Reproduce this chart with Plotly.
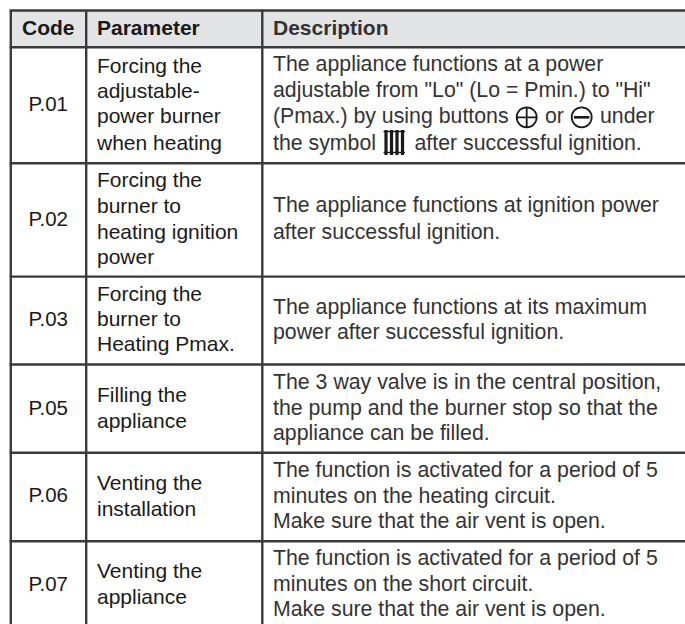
import plotly.graph_objects as go

W, H = 685, 624
FONT = "Liberation Sans"
SIZE_HEAD = 21
SIZE_CODE = 20.5
SIZE_PARAM = 21
SIZE_DESC = 21.3
DARK = "#1a1a1a"
GREY = "#333333"
LINE = "#3a3a3a"
HEAD_FILL = "#e3e4e5"

# table rules (page pixels)
h_rules = [10.5, 47.2, 163.3, 276.6, 364.5, 452.7, 541.3]
v_rules = [10.8, 86.2, 262.3]

# header
header_labels = ["Code", "Parameter", "Description"]
header_x = [22, 97, 273]
header_base = [36.7, 36.7, 36.7]

# Code column
codes = ["P.01", "P.02", "P.03", "P.05", "P.06", "P.07"]
code_base = [113, 227.7, 328, 417, 504, 592.7]
code_x = [48.2] * 6

# Parameter column
param_lines = ["Forcing the", "adjustable-", "power burner", "when heating",
               "Forcing the", "burner to", "heating ignition", "power",
               "Forcing the", "burner to", "Heating Pmax.",
               "Filling the", "appliance",
               "Venting the", "installation",
               "Venting the", "appliance"]
param_base = [75, 99.7, 125.2, 151.5,
              189, 215, 240.5, 265.5,
              303, 328, 353,
              404, 430,
              492, 518,
              580, 606]
param_x = [97] * len(param_lines)

# Description column
desc_lines = ["The appliance functions at a power",
              "adjustable from \"Lo\" (Lo = Pmin.) to \"Hi\"",
              "(Pmax.) by using buttons",
              "the symbol",
              "The appliance functions at ignition power",
              "after successful ignition.",
              "The appliance functions at its maximum",
              "power after successful ignition.",
              "The 3 way valve is in the central position,",
              "the pump and the burner stop so that the",
              "appliance can be filled.",
              "The function is activated for a period of 5",
              "minutes on the heating circuit.",
              "Make sure that the air vent is open.",
              "The function is activated for a period of 5",
              "minutes on the short circuit.",
              "Make sure that the air vent is open."]
desc_base = [73, 99, 125, 151.5,
             214, 240.5,
             315.7, 341,
             390.7, 416.7, 441.7,
             479, 505, 530,
             566.7, 592.7, 618]
desc_x = [273] * len(desc_lines)

# pieces of text set between the symbols of the first description
inline_text = ["or", "under", "after successful ignition."]
inline_x = [545, 600, 414.5]
inline_base = [125, 125, 151.5]

# symbols
plus_x, plus_y = [526.7], [117.3]
minus_x, minus_y = [581.7], [117.3]
rad_bars_x = [386.0, 391.5, 397.0, 402.5]
rad_top, rad_bottom = 131.5, 152.5
rad_left, rad_right = 383.5, 405.0

BASE_SHIFT = 7.0   # baseline to middle of the text box


def text_trace(x, base, labels, color, size, anchor="middle right", bold=False):
    return go.Scatter(
        x=x, y=[b - BASE_SHIFT for b in base], text=labels, mode="text",
        textposition=anchor, cliponaxis=False, hoverinfo="skip", showlegend=False,
        textfont=dict(family=FONT, size=size, color=color,
                      weight="bold" if bold else "normal"))


fig = go.Figure()
shapes = [dict(type="rect", xref="x", yref="y", x0=v_rules[0], x1=W,
               y0=h_rules[0], y1=h_rules[1], fillcolor=HEAD_FILL,
               line_width=0, layer="below")]
for y in h_rules:
    shapes.append(dict(type="line", xref="x", yref="y", x0=v_rules[0] - 1.2, x1=W,
                       y0=y, y1=y, line=dict(color=LINE, width=2.4)))
for x in v_rules:
    shapes.append(dict(type="line", xref="x", yref="y", x0=x, x1=x,
                       y0=h_rules[0], y1=H, line=dict(color=LINE, width=2.4)))
# radiator symbol
for x in rad_bars_x:
    shapes.append(dict(type="line", xref="x", yref="y", x0=x, x1=x,
                       y0=rad_top - 1.5, y1=rad_bottom + 2.5,
                       line=dict(color=DARK, width=3.2)))
for y in (rad_top, rad_bottom):
    shapes.append(dict(type="line", xref="x", yref="y", x0=rad_left, x1=rad_right,
                       y0=y, y1=y, line=dict(color=DARK, width=1.4)))

fig.add_trace(text_trace(code_x, code_base, codes, DARK, SIZE_CODE, anchor="middle center"))
fig.add_trace(text_trace(header_x[:2], header_base[:2], header_labels[:2], DARK, SIZE_HEAD, bold=True))
fig.add_trace(text_trace(header_x[2:], header_base[2:], header_labels[2:], GREY, SIZE_HEAD, bold=True))
fig.add_trace(text_trace(param_x, param_base, param_lines, DARK, SIZE_PARAM))
fig.add_trace(text_trace(desc_x, desc_base, desc_lines, GREY, SIZE_DESC))
fig.add_trace(text_trace(inline_x, inline_base, inline_text, GREY, SIZE_DESC))
fig.add_trace(go.Scatter(x=plus_x, y=plus_y, mode="markers", hoverinfo="skip", showlegend=False,
                         marker=dict(symbol="circle-cross-open", size=20, color=DARK,
                                     line=dict(color=DARK, width=1.8))))
fig.add_trace(go.Scatter(x=minus_x, y=minus_y, mode="markers", hoverinfo="skip", showlegend=False,
                         marker=dict(symbol="circle-open", size=20, color=DARK,
                                     line=dict(color=DARK, width=1.8))))
fig.add_trace(go.Scatter(x=minus_x, y=minus_y, mode="markers", hoverinfo="skip", showlegend=False,
                         marker=dict(symbol="line-ew", size=11, color=DARK,
                                     line=dict(color=DARK, width=2.6))))

fig.update_layout(
    width=W, height=H, margin=dict(l=0, r=0, t=0, b=0),
    paper_bgcolor="white", plot_bgcolor="white", showlegend=False, shapes=shapes,
    xaxis=dict(range=[0, W], visible=False, fixedrange=True),
    yaxis=dict(range=[H, 0], visible=False, fixedrange=True),
)
fig.write_html("out.html", config=dict(displayModeBar=False),
               post_script="document.body.style.margin='0';")
